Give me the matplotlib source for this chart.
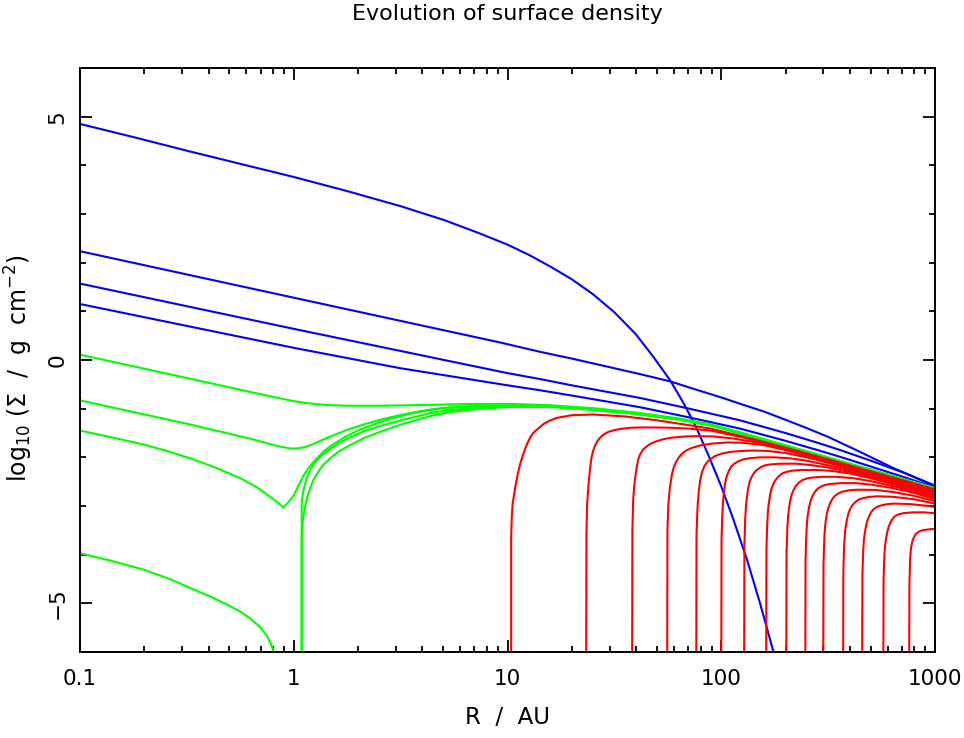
import numpy as np
import matplotlib
matplotlib.use("Agg")
from matplotlib import pyplot as plt
from matplotlib.ticker import FixedLocator, NullFormatter

# values: (log10 R/AU, log10 Sigma)
blue_curves = [
    [(-1.0, 4.85), (-0.75, 4.58), (-0.5, 4.30), (-0.25, 4.03), (0.0, 3.76), (0.25, 3.47), (0.5, 3.16),
     (0.7, 2.88), (0.87, 2.60), (1.0, 2.37), (1.1, 2.16), (1.2, 1.92), (1.3, 1.66), (1.4, 1.35),
     (1.5, 0.98), (1.6, 0.53), (1.683, 0.06), (1.761, -0.42), (1.82, -0.86), (1.878, -1.34),
     (1.94, -1.96), (2.0, -2.6), (2.056, -3.27), (2.12, -4.1), (2.18, -4.98), (2.238, -5.9), (2.25, -6.1)],
    [(-1.0, 2.235), (0.0, 1.28), (0.965, 0.36), (1.15, 0.17), (1.3, 0.03), (1.47, -0.14), (1.62, -0.29),
     (1.761, -0.44), (1.854, -0.57), (2.0, -0.77), (2.088, -0.90), (2.2, -1.06), (2.307, -1.24),
     (2.4, -1.40), (2.5, -1.58), (2.65, -1.89), (2.8, -2.21), (2.9, -2.4), (3.0, -2.6)],
    [(-1.0, 1.57), (0.0, 0.64), (1.0, -0.27), (1.15, -0.39), (1.3, -0.52), (1.46, -0.65), (1.62, -0.78),
     (1.85, -1.0), (2.088, -1.24), (2.3, -1.5), (2.45, -1.7), (2.556, -1.85), (2.7, -2.07), (2.85, -2.31),
     (3.0, -2.58)],
    [(-1.0, 1.15), (-0.5, 0.70), (0.0, 0.25), (0.5, -0.17), (1.0, -0.52), (1.15, -0.62), (1.3, -0.73),
     (1.46, -0.85), (1.62, -0.97), (1.85, -1.18), (2.088, -1.41), (2.3, -1.66), (2.45, -1.85),
     (2.556, -1.99), (2.7, -2.19), (2.85, -2.4), (3.0, -2.62)],
]

green_curves = [
    [(-1.0, 0.11), (-0.5, -0.37), (-0.2, -0.66), (-0.1, -0.755), (-0.05, -0.80), (0.0, -0.845),
     (0.05, -0.88), (0.1, -0.905), (0.15, -0.925), (0.25, -0.94), (0.4, -0.94), (0.6, -0.925),
     (0.8, -0.905), (1.0, -0.90), (1.2, -0.93), (1.4, -0.99), (1.6, -1.08), (1.8, -1.20), (1.95, -1.32),
     (2.1, -1.50), (2.3, -1.75), (2.5, -2.00), (2.7, -2.25), (2.85, -2.44), (3.0, -2.63)],
    [(-1.0, -0.83), (-0.5, -1.31), (-0.2, -1.62), (-0.1, -1.74), (-0.05, -1.79), (-0.02, -1.815),
     (0.0, -1.82), (0.02, -1.815), (0.05, -1.79), (0.08, -1.745), (0.11, -1.69), (0.15, -1.61),
     (0.2, -1.52), (0.26, -1.42), (0.33, -1.32), (0.42, -1.21), (0.5, -1.13), (0.58, -1.06),
     (0.65, -1.01), (0.73, -0.975), (0.85, -0.945), (1.0, -0.925), (1.2, -0.945), (1.4, -1.0),
     (1.6, -1.09), (1.8, -1.21), (1.95, -1.33), (2.1, -1.51), (2.3, -1.76), (2.5, -2.01), (2.7, -2.26),
     (2.85, -2.45), (3.0, -2.64)],
    [(-1.0, -1.45), (-0.85, -1.59), (-0.7, -1.74), (-0.6, -1.86), (-0.47, -2.04), (-0.35, -2.24),
     (-0.25, -2.43), (-0.17, -2.62), (-0.12, -2.78), (-0.08, -2.91), (-0.049, -3.03), (-0.025, -2.92),
     (0.0, -2.78), (0.02, -2.6), (0.045, -2.38), (0.075, -2.18), (0.108, -2.02), (0.145, -1.86),
     (0.185, -1.73), (0.24, -1.58), (0.295, -1.46), (0.37, -1.33), (0.451, -1.21), (0.53, -1.12),
     (0.606, -1.05), (0.7, -0.99), (0.85, -0.955), (1.0, -0.935), (1.2, -0.95), (1.4, -1.01),
     (1.6, -1.10), (1.8, -1.215), (1.95, -1.335), (2.1, -1.515), (2.3, -1.765), (2.5, -2.015),
     (2.7, -2.265), (2.85, -2.455), (3.0, -2.645)],
    [(0.037, -6.1), (0.037, -2.91), (0.045, -2.68), (0.053, -2.54), (0.064, -2.39), (0.076, -2.27),
     (0.09, -2.16), (0.108, -2.06), (0.135, -1.94), (0.17, -1.83), (0.21, -1.71), (0.263, -1.59),
     (0.33, -1.46), (0.419, -1.34), (0.5, -1.24), (0.576, -1.16), (0.65, -1.08), (0.731, -1.03),
     (0.85, -0.98), (1.0, -0.95), (1.2, -0.96), (1.4, -1.02), (1.6, -1.105), (1.8, -1.22), (1.95, -1.34),
     (2.1, -1.52), (2.3, -1.77), (2.5, -2.02), (2.7, -2.27), (2.85, -2.46), (3.0, -2.65)],
    [(0.037, -6.1), (0.037, -3.63), (0.042, -3.3), (0.053, -3.02), (0.064, -2.80), (0.076, -2.64),
     (0.09, -2.48), (0.108, -2.34), (0.135, -2.17), (0.17, -2.02), (0.21, -1.88), (0.263, -1.75),
     (0.33, -1.60), (0.419, -1.45), (0.5, -1.33), (0.576, -1.23), (0.65, -1.14), (0.731, -1.07),
     (0.85, -1.01), (1.0, -0.965), (1.2, -0.965), (1.4, -1.025), (1.6, -1.11), (1.8, -1.225),
     (1.95, -1.345), (2.1, -1.525), (2.3, -1.775), (2.5, -2.025), (2.7, -2.275), (2.85, -2.465),
     (3.0, -2.655)],
    [(-1.0, -3.97), (-0.85, -4.13), (-0.7, -4.31), (-0.58, -4.5), (-0.47, -4.71), (-0.38, -4.88),
     (-0.31, -5.03), (-0.25, -5.17), (-0.2, -5.32), (-0.16, -5.48), (-0.13, -5.64), (-0.11, -5.80),
     (-0.095, -5.98), (-0.09, -6.1)],
]

red_curves = [
    [(1.017, -6.1), (1.017, -3.6), (1.02, -3.2), (1.024, -2.95), (1.03, -2.78), (1.036, -2.62),
     (1.043, -2.45), (1.05, -2.3), (1.06, -2.12), (1.07, -1.98), (1.08, -1.85), (1.093, -1.71),
     (1.106, -1.59), (1.12, -1.50), (1.14, -1.42), (1.17, -1.31), (1.2, -1.24), (1.23, -1.19),
     (1.30, -1.135), (1.40, -1.12), (1.55, -1.16), (1.70, -1.24), (1.85, -1.34), (1.95, -1.41),
     (2.1, -1.57), (2.3, -1.80), (2.5, -2.04), (2.7, -2.29), (2.85, -2.47), (3.0, -2.66)],
    [(1.368, -6.1), (1.369, -3.6), (1.372, -3.0), (1.376, -2.72), (1.38, -2.5), (1.387, -2.2),
     (1.393, -2.0), (1.40, -1.87), (1.41, -1.75), (1.42, -1.67), (1.434, -1.59), (1.45, -1.53),
     (1.47, -1.48), (1.5, -1.44), (1.53, -1.415), (1.57, -1.395), (1.62, -1.385), (1.75, -1.39),
     (1.85, -1.41), (1.95, -1.45), (2.1, -1.59), (2.3, -1.82), (2.5, -2.06), (2.7, -2.30),
     (2.85, -2.49), (3.0, -2.68)],
    [(1.583, -6.1), (1.584, -3.5), (1.588, -2.85), (1.592, -2.62), (1.596, -2.45), (1.605, -2.18),
     (1.612, -2.04), (1.62, -1.94), (1.635, -1.84), (1.652, -1.77), (1.67, -1.72), (1.69, -1.68),
     (1.73, -1.625), (1.77, -1.595), (1.82, -1.575), (1.88, -1.565), (1.96, -1.57), (2.05, -1.61),
     (2.15, -1.68), (2.3, -1.84), (2.5, -2.08), (2.7, -2.32), (2.85, -2.51), (3.0, -2.70)],
    [(1.747, -6.1), (1.748, -3.5), (1.752, -3.0), (1.756, -2.77), (1.760, -2.6), (1.769, -2.35),
     (1.778, -2.2), (1.79, -2.08), (1.805, -1.98), (1.823, -1.90), (1.84, -1.85), (1.86, -1.81),
     (1.90, -1.755), (1.96, -1.715), (2.03, -1.695), (2.1, -1.70), (2.2, -1.75), (2.3, -1.85),
     (2.5, -2.09), (2.7, -2.34), (2.85, -2.53), (3.0, -2.72)],
    [(1.883, -6.1), (1.884, -3.6), (1.888, -3.1), (1.891, -2.88), (1.894, -2.72), (1.901, -2.47),
     (1.91, -2.30), (1.92, -2.19), (1.932, -2.11), (1.945, -2.05), (1.97, -1.975), (2.0, -1.925),
     (2.04, -1.89), (2.09, -1.87), (2.15, -1.86), (2.22, -1.87), (2.3, -1.91), (2.4, -2.0),
     (2.55, -2.17), (2.7, -2.36), (2.85, -2.55), (3.0, -2.74)],
    [(2.0, -6.1), (2.001, -3.7), (2.005, -3.15), (2.008, -2.92), (2.011, -2.77), (2.018, -2.53),
     (2.026, -2.38), (2.035, -2.28), (2.045, -2.2), (2.058, -2.14), (2.08, -2.08), (2.1, -2.045),
     (2.13, -2.02), (2.18, -2.0), (2.25, -2.0), (2.32, -2.02), (2.4, -2.07), (2.55, -2.21),
     (2.7, -2.38), (2.85, -2.57), (3.0, -2.76)],
    [(2.107, -6.1), (2.108, -3.8), (2.112, -3.25), (2.115, -3.02), (2.118, -2.88), (2.125, -2.65),
     (2.132, -2.51), (2.14, -2.42), (2.15, -2.34), (2.163, -2.27), (2.185, -2.2), (2.205, -2.165),
     (2.23, -2.145), (2.28, -2.13), (2.35, -2.13), (2.42, -2.16), (2.5, -2.21), (2.6, -2.30),
     (2.7, -2.41), (2.85, -2.59), (3.0, -2.78)],
    [(2.210, -6.1), (2.211, -3.9), (2.215, -3.35), (2.218, -3.12), (2.221, -2.99), (2.228, -2.77),
     (2.235, -2.64), (2.243, -2.55), (2.253, -2.47), (2.266, -2.4), (2.285, -2.33), (2.305, -2.3),
     (2.33, -2.275), (2.38, -2.26), (2.45, -2.26), (2.52, -2.28), (2.6, -2.33), (2.7, -2.43),
     (2.85, -2.61), (3.0, -2.80)],
    [(2.304, -6.1), (2.305, -4.0), (2.309, -3.45), (2.312, -3.23), (2.315, -3.1), (2.322, -2.9),
     (2.329, -2.77), (2.337, -2.68), (2.347, -2.6), (2.36, -2.53), (2.378, -2.47), (2.4, -2.435),
     (2.425, -2.415), (2.47, -2.40), (2.54, -2.40), (2.62, -2.43), (2.7, -2.49), (2.85, -2.64),
     (3.0, -2.83)],
    [(2.393, -6.1), (2.394, -4.1), (2.398, -3.55), (2.401, -3.33), (2.404, -3.2), (2.411, -3.01),
     (2.418, -2.89), (2.426, -2.8), (2.436, -2.72), (2.448, -2.655), (2.466, -2.6), (2.488, -2.565),
     (2.515, -2.545), (2.56, -2.53), (2.63, -2.53), (2.7, -2.56), (2.8, -2.63), (2.9, -2.73),
     (3.0, -2.86)],
    [(2.477, -6.1), (2.478, -4.2), (2.482, -3.65), (2.485, -3.45), (2.488, -3.32), (2.495, -3.13),
     (2.502, -3.02), (2.51, -2.93), (2.52, -2.85), (2.532, -2.79), (2.55, -2.735), (2.57, -2.7),
     (2.6, -2.675), (2.64, -2.665), (2.72, -2.67), (2.8, -2.71), (2.9, -2.79), (3.0, -2.90)],
    [(2.570, -6.1), (2.571, -4.3), (2.575, -3.78), (2.578, -3.58), (2.581, -3.46), (2.588, -3.27),
     (2.595, -3.15), (2.602, -3.07), (2.612, -2.99), (2.624, -2.93), (2.642, -2.87), (2.662, -2.84),
     (2.69, -2.815), (2.73, -2.80), (2.8, -2.81), (2.9, -2.86), (3.0, -2.95)],
    [(2.659, -6.1), (2.660, -4.4), (2.664, -3.9), (2.667, -3.7), (2.67, -3.59), (2.677, -3.41),
     (2.684, -3.29), (2.692, -3.2), (2.702, -3.12), (2.714, -3.06), (2.732, -3.01), (2.755, -2.98),
     (2.78, -2.96), (2.81, -2.95), (2.88, -2.96), (2.95, -2.99), (3.0, -3.02)],
    [(2.758, -6.1), (2.759, -4.5), (2.763, -4.0), (2.766, -3.82), (2.769, -3.71), (2.776, -3.54),
     (2.782, -3.44), (2.79, -3.35), (2.8, -3.27), (2.812, -3.21), (2.83, -3.17), (2.855, -3.145),
     (2.9, -3.13), (2.95, -3.13), (3.0, -3.15)],
    [(2.879, -6.1), (2.880, -4.6), (2.883, -4.1), (2.886, -3.93), (2.888, -3.85), (2.892, -3.76),
     (2.897, -3.68), (2.905, -3.61), (2.912, -3.57), (2.92, -3.54), (2.93, -3.515), (2.94, -3.50),
     (2.97, -3.48), (3.0, -3.47)],
]

x_ticks = [0.1, 1, 10, 100, 1000]
x_labels = ["0.1", "1", "10", "100", "1000"]
y_ticks = [-5, 0, 5]
y_labels = ["\u22125", "0", "5"]

plt.rcParams['font.family'] = ['DejaVu Sans']

fig = plt.figure(figsize=(9.64, 7.38), dpi=100)
ax = fig.add_axes([0.083, 0.1165, 0.887, 0.7914])


def draw(curves, color):
    for pts in curves:
        lr, y = zip(*pts)
        ax.plot(10 ** np.array(lr), y, color=color, lw=1.5,
                solid_joinstyle='round', solid_capstyle='round')


draw(blue_curves, '#0000ff')
draw(green_curves, '#00ff00')
draw(red_curves, '#ff0000')

ax.set_xscale('log')
ax.set_xlim(0.1, 1000)
ax.set_ylim(-6, 6)

ax.xaxis.set_major_locator(FixedLocator(x_ticks))
ax.set_xticklabels(x_labels)
minor_x = [m * 10.0 ** d for d in range(-1, 3) for m in range(2, 10)]
ax.xaxis.set_minor_locator(FixedLocator(minor_x))
ax.xaxis.set_minor_formatter(NullFormatter())
ax.set_yticks(y_ticks)
ax.set_yticklabels(y_labels, rotation=90, va='center')
ax.yaxis.set_minor_locator(FixedLocator(range(-6, 7)))

ax.tick_params(which='both', direction='in', top=True, right=True, width=1.3, colors='black',
               labelsize=15.5)
ax.tick_params(which='major', length=8.5)
ax.tick_params(which='minor', length=4.3)
ax.tick_params(axis='x', pad=12)
ax.tick_params(axis='y', pad=9)
for s in ax.spines.values():
    s.set_linewidth(1.4)

fig.text(507.5 / 964, 1 - 717 / 738, "R  /  AU", ha='center', va='center', fontsize=16.5)
fig.text(19 / 964, 1 - 368 / 738, r"log$_{10}$ ($\Sigma$  /  g  cm$^{-2}$)", rotation=90,
         ha='center', va='center', fontsize=17)
fig.text(507.5 / 964, 1 - 14 / 738, "Evolution of surface density", ha='center', va='center',
         fontsize=16)

fig.savefig("out.png", dpi=100)
